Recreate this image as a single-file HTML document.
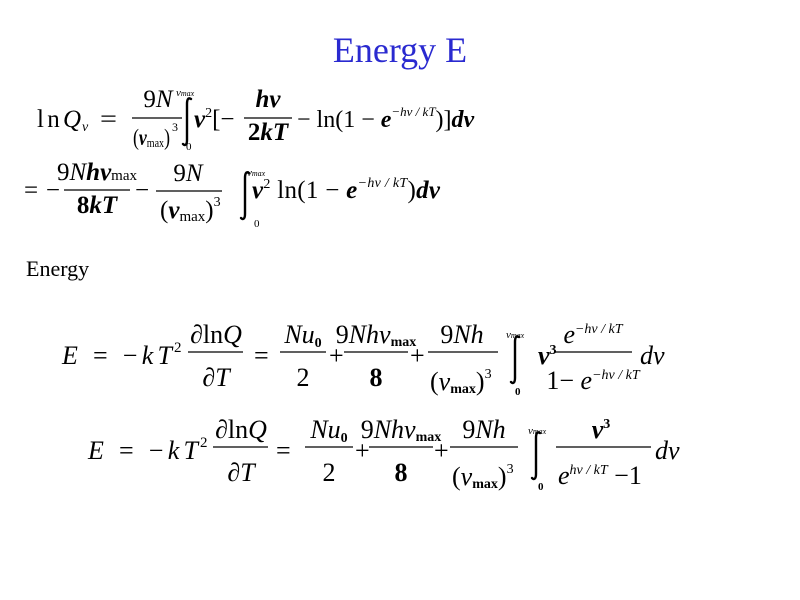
<!DOCTYPE html>
<html><head><meta charset="utf-8"><style>
html,body{margin:0;padding:0;background:#fff;width:800px;height:600px;overflow:hidden}
svg{display:block}
text{font-family:"Liberation Serif",serif;fill:#000}
.i{font-style:italic}
.b{font-weight:bold}
.ig{fill:none;stroke:#000;stroke-width:2.4;stroke-linecap:round}
</style></head><body>
<svg width="800" height="600" viewBox="0 0 800 600" xmlns="http://www.w3.org/2000/svg">
<text x="400" y="62" text-anchor="middle" font-size="36" style="fill:#2a2ad0">Energy E</text>

<!-- Eq1 -->
<g font-size="25">
<text x="37" y="127" textLength="44">ln<tspan class="i">Q</tspan></text>
<text x="82" y="131" font-size="14" class="i">v</text>
<text x="100" y="127" textLength="17" lengthAdjust="spacingAndGlyphs">=</text>
<text x="158" y="107" text-anchor="middle">9<tspan class="i">N</tspan></text>
<line x1="132" y1="118" x2="182" y2="118" stroke="#000" stroke-width="1.3"/>
<text x="133" y="145" font-size="23" textLength="37" lengthAdjust="spacingAndGlyphs">(<tspan class="i b">v</tspan><tspan font-size="13" dy="2">max</tspan><tspan dy="-2">)</tspan></text>
<text x="172" y="131" font-size="12">3</text>
<path class="ig" d="M191,99 C188,97 187,100 187,104 L187,140 C187,145 185,146 183,144"/>
<text x="176" y="96" font-size="11" class="i">v<tspan font-size="8">max</tspan></text>
<text x="186" y="150" font-size="11">0</text>
<text x="194" y="127"><tspan class="i b">v</tspan><tspan font-size="14" dy="-10">2</tspan><tspan dy="10">[−</tspan></text>
<text x="268" y="107" text-anchor="middle" class="i b">hv</text>
<line x1="244" y1="118" x2="292" y2="118" stroke="#000" stroke-width="1.3"/>
<text x="268" y="140" text-anchor="middle" class="b">2<tspan class="i">kT</tspan></text>
<text x="297" y="127" font-size="24">− ln(1 − <tspan class="i b">e</tspan><tspan font-size="13" class="i" dy="-11">−hv / kT</tspan><tspan dy="11">)]</tspan><tspan class="i b">dv</tspan></text>
</g>

<!-- Eq2 -->
<g font-size="25">
<text x="24" y="198" textLength="36">=−</text>
<text x="97" y="180" text-anchor="middle">9<tspan class="i">N</tspan><tspan class="i b">hv</tspan><tspan font-size="15">max</tspan></text>
<line x1="64" y1="190" x2="130" y2="190" stroke="#000" stroke-width="1.3"/>
<text x="97" y="213" text-anchor="middle" class="b">8<tspan class="i">kT</tspan></text>
<text x="135" y="198">−</text>
<text x="188" y="181" text-anchor="middle">9<tspan class="i">N</tspan></text>
<line x1="156" y1="191" x2="222" y2="191" stroke="#000" stroke-width="1.3"/>
<text x="160" y="218">(<tspan class="i b">v</tspan><tspan font-size="15" dy="3">max</tspan><tspan dy="-3">)</tspan><tspan font-size="14" dy="-12">3</tspan></text>
<path class="ig" d="M249,173 C246,171 245,174 245,178 L245,214 C245,219 243,220 241,218"/>
<text x="247" y="176" font-size="11" class="i">v<tspan font-size="8">max</tspan></text>
<text x="254" y="227" font-size="11">0</text>
<text x="252" y="198" textLength="188"><tspan class="i b">v</tspan><tspan font-size="14" dy="-10">2</tspan><tspan dy="10"> ln(1 − </tspan><tspan class="i b">e</tspan><tspan font-size="14" class="i" dy="-11">−hv / kT</tspan><tspan dy="11">)</tspan><tspan class="i b">dv</tspan></text>
</g>

<text x="26" y="276" font-size="22">Energy</text>

<!-- Eq3 -->
<g font-size="26">
<text x="62" y="364" textLength="110"><tspan class="i">E</tspan> = −<tspan class="i">kT</tspan></text>
<text x="174" y="352" font-size="15">2</text>
<text x="216" y="343" text-anchor="middle"><tspan class="i">∂</tspan>ln<tspan class="i">Q</tspan></text>
<line x1="188" y1="352" x2="243" y2="352" stroke="#000" stroke-width="1.3"/>
<text x="216" y="386" text-anchor="middle" class="i">∂T</text>
<text x="254" y="364">=</text>
<text x="303" y="343" text-anchor="middle" class="i">Nu<tspan font-size="14" dy="4" style="font-style:normal" class="b">0</tspan></text>
<line x1="280" y1="352" x2="326" y2="352" stroke="#000" stroke-width="1.3"/>
<text x="303" y="386" text-anchor="middle">2</text>
<text x="329" y="364">+</text>
<text x="376" y="343" text-anchor="middle">9<tspan class="i">Nhv</tspan><tspan font-size="14" class="b" dy="3">max</tspan></text>
<line x1="344" y1="352" x2="408" y2="352" stroke="#000" stroke-width="1.3"/>
<text x="376" y="386" text-anchor="middle" class="b">8</text>
<text x="410" y="364">+</text>
<text x="462" y="343" text-anchor="middle">9<tspan class="i">Nh</tspan></text>
<line x1="428" y1="352" x2="498" y2="352" stroke="#000" stroke-width="1.3"/>
<text x="430" y="390">(<tspan class="i">v</tspan><tspan font-size="14" class="b" dy="3">max</tspan><tspan dy="-3">)</tspan><tspan font-size="14" dy="-12">3</tspan></text>
<path class="ig" d="M519,337 C516,335 515,338 515,342 L515,378 C515,383 513,384 511,382"/>
<text x="506" y="338" font-size="11" class="i">v<tspan font-size="8">max</tspan></text>
<text x="515" y="395" font-size="11" class="b">0</text>
<text x="538" y="364" class="i b">v<tspan font-size="14" dy="-10" style="font-style:normal">3</tspan></text>
<text x="593" y="343" text-anchor="middle" class="i">e<tspan font-size="14" dy="-10">−hv / kT</tspan></text>
<line x1="555" y1="352" x2="632" y2="352" stroke="#000" stroke-width="1.3"/>
<text x="593" y="389" text-anchor="middle">1− <tspan class="i">e</tspan><tspan font-size="14" class="i" dy="-10">−hv / kT</tspan></text>
<text x="640" y="364" class="i">dv</text>
</g>

<!-- Eq4 -->
<g font-size="26">
<text x="88" y="459" textLength="110"><tspan class="i">E</tspan> = −<tspan class="i">kT</tspan></text>
<text x="200" y="447" font-size="15">2</text>
<text x="241" y="438" text-anchor="middle"><tspan class="i">∂</tspan>ln<tspan class="i">Q</tspan></text>
<line x1="213" y1="447" x2="268" y2="447" stroke="#000" stroke-width="1.3"/>
<text x="241" y="481" text-anchor="middle" class="i">∂T</text>
<text x="276" y="459">=</text>
<text x="329" y="438" text-anchor="middle" class="i">Nu<tspan font-size="14" dy="4" style="font-style:normal" class="b">0</tspan></text>
<line x1="305" y1="447" x2="353" y2="447" stroke="#000" stroke-width="1.3"/>
<text x="329" y="481" text-anchor="middle">2</text>
<text x="355" y="459">+</text>
<text x="401" y="438" text-anchor="middle">9<tspan class="i">Nhv</tspan><tspan font-size="14" class="b" dy="3">max</tspan></text>
<line x1="369" y1="447" x2="433" y2="447" stroke="#000" stroke-width="1.3"/>
<text x="401" y="481" text-anchor="middle" class="b">8</text>
<text x="434" y="459">+</text>
<text x="484" y="438" text-anchor="middle">9<tspan class="i">Nh</tspan></text>
<line x1="450" y1="447" x2="518" y2="447" stroke="#000" stroke-width="1.3"/>
<text x="452" y="485">(<tspan class="i">v</tspan><tspan font-size="14" class="b" dy="3">max</tspan><tspan dy="-3">)</tspan><tspan font-size="14" dy="-12">3</tspan></text>
<path class="ig" d="M540,433 C537,431 536,434 536,438 L536,474 C536,479 534,480 532,478"/>
<text x="528" y="434" font-size="11" class="i">v<tspan font-size="8">max</tspan></text>
<text x="538" y="490" font-size="11" class="b">0</text>
<text x="601" y="438" text-anchor="middle" class="i b">v<tspan font-size="14" dy="-10" style="font-style:normal">3</tspan></text>
<line x1="556" y1="447" x2="651" y2="447" stroke="#000" stroke-width="1.3"/>
<text x="558" y="484"><tspan class="i">e</tspan><tspan font-size="14" class="i" dy="-10">hv / kT</tspan><tspan dy="10"> −1</tspan></text>
<text x="655" y="459" class="i">dv</text>
</g>
</svg>
</body></html>
